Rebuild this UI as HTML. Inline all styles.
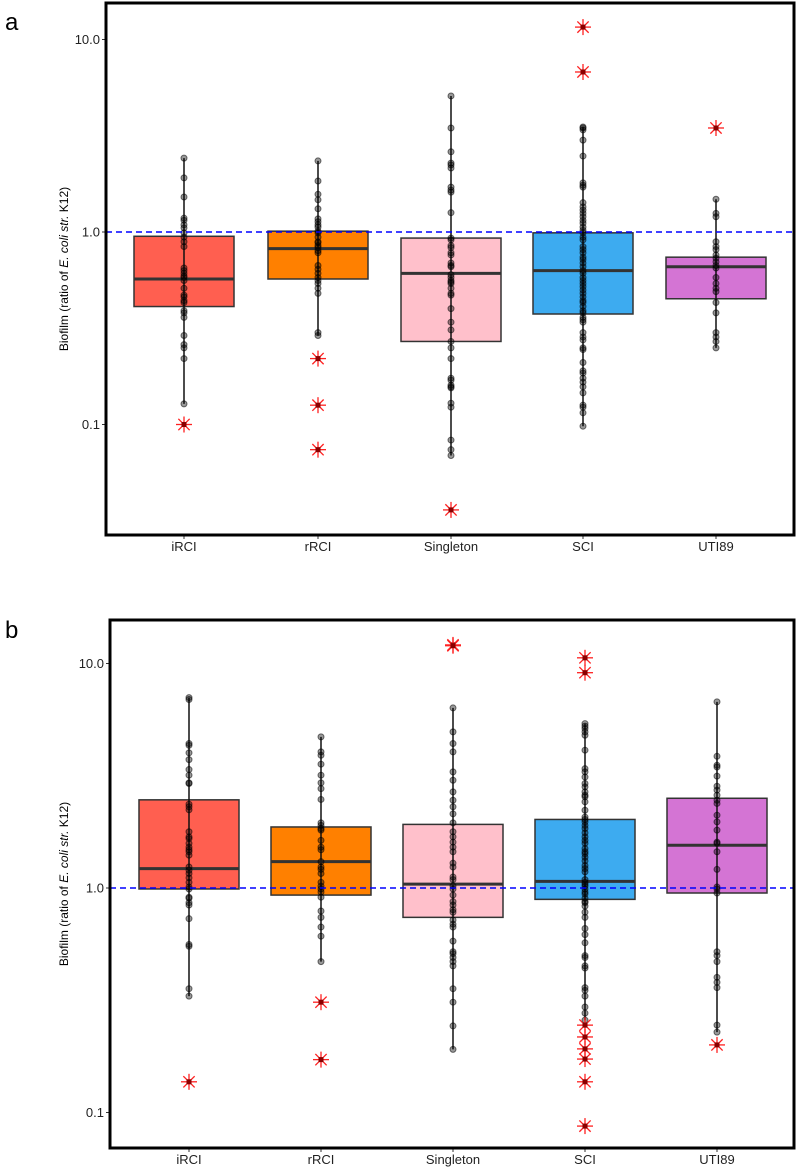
<!DOCTYPE html>
<html><head><meta charset="utf-8"><style>
html,body{margin:0;padding:0;background:#fff;}
svg{display:block;font-family:"Liberation Sans",Arial,sans-serif;}
</style></head><body>
<svg id="chart" width="800" height="1171" viewBox="0 0 800 1171" xmlns="http://www.w3.org/2000/svg"></svg>
<script>
const categories = ["iRCI","rRCI","Singleton","SCI","UTI89"];
const colors = ["#FF5F50","#FF8000","#FFC0CB","#3DABF0","#D474D4"];
const tickValues = [10,1,0.1];
const tickLabels = ["10.0","1.0","0.1"];

// Panel a data
const aIRCI = [2.42,1.91,1.52,1.18,1.15,1.09,1.05,0.99,0.94,0.89,0.84,0.65,0.63,0.61,0.59,0.58,0.56,0.51,0.47,0.46,0.44,0.43,0.39,0.38,0.36,0.29,0.26,0.25,0.22,0.128];
const aRRCI = [2.34,1.84,1.57,1.47,1.32,1.17,1.13,1.09,1.06,1.01,0.99,0.94,0.89,0.88,0.85,0.83,0.80,0.78,0.67,0.64,0.61,0.58,0.56,0.54,0.51,0.48,0.30,0.29];
const aSingleton = [5.09,3.47,2.61,2.28,2.23,2.15,1.71,1.65,1.61,1.26,0.93,0.91,0.85,0.83,0.78,0.76,0.69,0.67,0.66,0.60,0.58,0.56,0.55,0.54,0.51,0.48,0.47,0.40,0.34,0.31,0.27,0.25,0.22,0.174,0.170,0.160,0.157,0.155,0.129,0.123,0.083,0.074,0.069];
const aSCI = [3.51,3.47,3.39,3.0,2.48,1.80,1.75,1.71,1.42,1.35,1.30,1.25,1.20,1.15,1.11,1.06,1.02,0.99,0.94,0.91,0.84,0.81,0.78,0.74,0.72,0.69,0.66,0.63,0.61,0.58,0.56,0.54,0.52,0.50,0.48,0.46,0.44,0.43,0.41,0.39,0.38,0.36,0.35,0.34,0.30,0.285,0.275,0.25,0.245,0.21,0.19,0.185,0.174,0.166,0.157,0.146,0.126,0.123,0.115,0.098];
const aUTI89 = [1.48,1.25,1.20,0.89,0.84,0.81,0.76,0.73,0.70,0.67,0.65,0.58,0.54,0.51,0.49,0.43,0.38,0.30,0.285,0.27,0.25];
const aQ1 = [0.41,0.57,0.27,0.375,0.45];
const aMedian = [0.57,0.82,0.61,0.63,0.66];
const aQ3 = [0.95,1.01,0.93,0.99,0.74];
const aOutIRCI = [0.1];
const aOutRRCI = [0.22,0.126,0.074];
const aOutSingleton = [0.036];
const aOutSCI = [11.6,6.78];
const aOutUTI89 = [3.47];

// Panel b data
const bIRCI = [7.05,6.91,4.40,4.32,4.0,3.73,3.37,3.18,2.94,2.92,2.36,2.30,2.23,1.78,1.69,1.66,1.58,1.52,1.48,1.45,1.40,1.24,1.20,1.16,1.11,1.06,1.01,0.99,0.91,0.90,0.86,0.84,0.73,0.56,0.55,0.356,0.33];
const bRRCI = [4.71,4.04,3.90,3.56,3.18,2.94,2.77,2.48,1.95,1.90,1.84,1.81,1.63,1.52,1.48,1.31,1.24,1.21,1.16,1.06,1.02,0.99,0.96,0.91,0.79,0.74,0.67,0.61,0.47];
const bSingleton = [6.34,4.96,4.40,4.04,3.29,3.02,2.68,2.46,2.30,2.14,1.95,1.78,1.69,1.60,1.52,1.45,1.29,1.24,1.12,1.09,1.02,0.99,0.93,0.87,0.84,0.80,0.78,0.72,0.69,0.67,0.58,0.52,0.51,0.49,0.47,0.45,0.356,0.31,0.243,0.191];
const bSCI = [5.40,5.26,5.13,4.96,4.79,4.11,3.40,3.29,3.12,2.92,2.82,2.68,2.59,2.55,2.42,2.22,2.07,2.02,1.97,1.90,1.84,1.76,1.69,1.63,1.58,1.50,1.45,1.42,1.37,1.32,1.26,1.22,1.18,1.09,1.06,1.04,1.02,0.99,0.96,0.94,0.90,0.87,0.86,0.83,0.78,0.74,0.66,0.62,0.57,0.50,0.49,0.45,0.44,0.36,0.35,0.33,0.295,0.277,0.258];
const bUTI89 = [6.75,3.86,3.52,3.46,3.15,2.84,2.73,2.59,2.46,2.38,2.11,1.97,1.81,1.60,1.58,1.45,1.21,1.01,0.99,0.95,0.52,0.50,0.47,0.40,0.38,0.36,0.245,0.228];
const bQ1 = [0.99,0.93,0.74,0.89,0.95];
const bMedian = [1.22,1.31,1.04,1.07,1.55];
const bQ3 = [2.47,1.87,1.92,2.02,2.51];
const bOutIRCI = [0.137];
const bOutRRCI = [0.31,0.172];
const bOutSingleton = [12.1,12.0];
const bOutSCI = [10.6,9.1,0.245,0.217,0.192,0.173,0.137,0.087];
const bOutUTI89 = [0.20];

const NS = "http://www.w3.org/2000/svg";
const svg = document.getElementById("chart");
function mk(tag, attrs, parent){
  const e = document.createElementNS(NS, tag);
  for (const k in attrs) e.setAttribute(k, attrs[k]);
  (parent||svg).appendChild(e);
  return e;
}

function drawPanel(p){
  const g = mk("g", {});
  
  
  const yScale = v => p.y1 - p.decade * Math.log10(v);
  const xScale = i => p.xc[i];

  const lab = mk("text", {x: 5, y: p.labelY, "font-size": 24, fill: "#000"}, g);
  lab.textContent = p.letter;
  
  

  const midY = (p.top + p.bottom) / 2;
  const yt = mk("text", {x: 68, y: midY, "font-size": 12, "text-anchor": "middle", transform: "rotate(-90 68 " + midY + ")"}, g);
  
  
  yt.innerHTML = 'Biofilm (ratio of <tspan font-style="italic">E. coli str.</tspan> K12)';

  tickValues.forEach((v, i) => {
    const y = yScale(v);
    const t = mk("line", {x1: p.left - 4, x2: p.left, y1: y, y2: y, stroke: "#333", "stroke-width": 1}, g);
    
    
    const tl = mk("text", {x: p.left - 6, y: y + 4.5, "font-size": 13, "text-anchor": "end", fill: "#222"}, g);
    tl.textContent = tickLabels[i];
    
    
  });

  categories.forEach((c, i) => {
    const x = xScale(i);
    const pts = p.points[i];
    const lo = Math.min(...pts), hi = Math.max(...pts);
    const box = mk("rect", {x: x - 50, y: yScale(p.q3[i]), width: 100, height: yScale(p.q1[i]) - yScale(p.q3[i]), fill: colors[i], stroke: "#333", "stroke-width": 1.5}, g);
    
    
    const wl = mk("line", {x1: x, x2: x, y1: yScale(hi), y2: yScale(lo), stroke: "#111", "stroke-width": 1.5}, g);
    
    
    const md = mk("line", {x1: x - 50, x2: x + 50, y1: yScale(p.med[i]), y2: yScale(p.med[i]), stroke: "#333", "stroke-width": 3}, g);
    
    
    pts.forEach(v => {
      const pt = mk("circle", {cx: x, cy: yScale(v), r: 3, fill: "rgba(0,0,0,0.4)", stroke: "rgba(0,0,0,0.55)", "stroke-width": 1}, g);
      
      
    });
    p.outliers[i].forEach(v => {
      const y = yScale(v);
      const og = mk("g", {}, g);
      
      
      for (let k = 0; k < 4; k++) {
        const a = k * Math.PI / 4;
        const dx = 8 * Math.cos(a), dy = 8 * Math.sin(a);
        mk("line", {x1: x - dx, y1: y - dy, x2: x + dx, y2: y + dy, stroke: "#ff2020", "stroke-width": 1.3}, og);
      }
      mk("rect", {x: x - 2.5, y: y - 2.5, width: 5, height: 5, fill: "#8b0000"}, og);
    });
    const xl = mk("text", {x: x, y: p.bottom + 16, "font-size": 13, "text-anchor": "middle", fill: "#222"}, g);
    xl.textContent = c;
    
    
    const xt = mk("line", {x1: x, x2: x, y1: p.bottom, y2: p.bottom + 4, stroke: "#333", "stroke-width": 1}, g);
    
    
  });

  const ref = mk("line", {x1: p.left, x2: p.right, y1: yScale(1), y2: yScale(1), stroke: "#0000ff", "stroke-width": 1.5, "stroke-dasharray": "6,4"}, g);
  
  

  const fr = mk("rect", {x: p.left, y: p.top, width: p.right - p.left, height: p.bottom - p.top, fill: "none", stroke: "#000", "stroke-width": 3}, g);
  
  
}

drawPanel({name: "panel-a", letter: "a", labelY: 30, left: 106, right: 794, top: 3, bottom: 535,
  y1: 232, decade: 192.5, xc: [184,318,451,583,716],
  points: [aIRCI,aRRCI,aSingleton,aSCI,aUTI89], q1: aQ1, med: aMedian, q3: aQ3,
  outliers: [aOutIRCI,aOutRRCI,aOutSingleton,aOutSCI,aOutUTI89]});
drawPanel({name: "panel-b", letter: "b", labelY: 258 + 380, left: 110, right: 794, top: 620, bottom: 1148,
  y1: 888, decade: 224.5, xc: [189,321,453,585,717],
  points: [bIRCI,bRRCI,bSingleton,bSCI,bUTI89], q1: bQ1, med: bMedian, q3: bQ3,
  outliers: [bOutIRCI,bOutRRCI,bOutSingleton,bOutSCI,bOutUTI89]});
</script>
</body></html>
